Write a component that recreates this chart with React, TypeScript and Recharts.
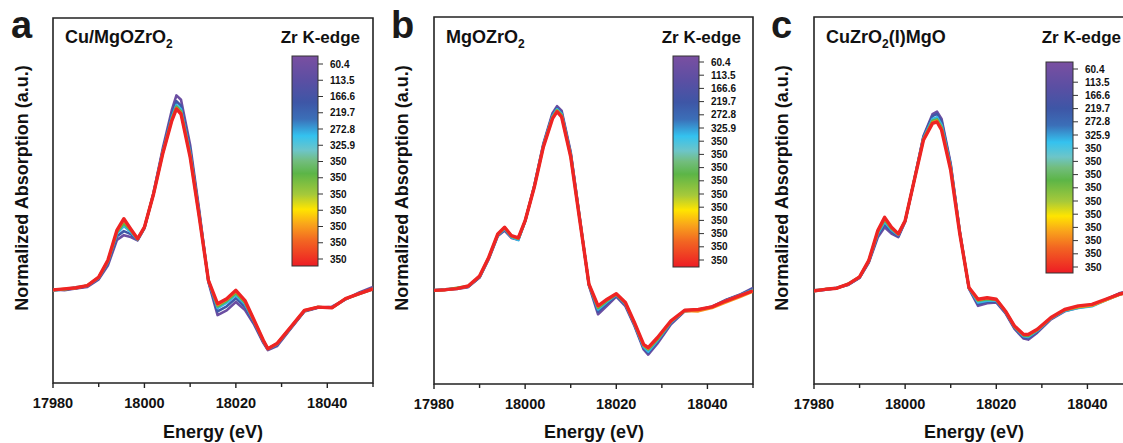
import React from "react";
import { LineChart, Line, XAxis, YAxis, ReferenceArea } from "recharts";

const FONT = "'Liberation Sans', Arial, Helvetica, sans-serif";

// energy grid (eV)
const energy = [
  17980, 17982.5, 17985, 17987.5, 17990, 17992, 17994, 17995.5, 17997, 17998.5,
  18000, 18002, 18004, 18006, 18007, 18008, 18010, 18012, 18014, 18016, 18018,
  18020, 18022, 18024, 18026, 18027, 18029, 18032, 18035, 18038, 18041, 18044,
  18047, 18050,
];

const xTicks = [17980, 17990, 18000, 18010, 18020, 18030, 18040, 18050];
const majorTicks = [17980, 18000, 18020, 18040];

const seriesColors = ["#6b4ea2", "#3f58a8", "#37b6e3", "#5cb648", "#f79420", "#ee2424"];

// panel a: Cu/MgOZrO2
const aPurple = [0.256,0.254,0.259,0.263,0.284,0.322,0.392,0.405,0.400,0.391,0.424,0.522,0.642,0.748,0.788,0.776,0.652,0.472,0.276,0.186,0.199,0.222,0.200,0.160,0.110,0.090,0.101,0.149,0.196,0.206,0.209,0.229,0.248,0.263];
const aBlue = [0.254,0.256,0.260,0.265,0.286,0.327,0.402,0.416,0.408,0.392,0.425,0.520,0.636,0.736,0.772,0.760,0.640,0.465,0.279,0.196,0.210,0.232,0.209,0.164,0.113,0.092,0.104,0.150,0.197,0.207,0.207,0.230,0.246,0.260];
const aCyan = [0.253,0.257,0.262,0.266,0.288,0.331,0.410,0.430,0.414,0.393,0.426,0.519,0.632,0.728,0.762,0.750,0.631,0.460,0.280,0.205,0.220,0.241,0.216,0.168,0.115,0.093,0.106,0.151,0.198,0.208,0.206,0.230,0.245,0.257];
const aGreen = [0.255,0.256,0.261,0.267,0.289,0.333,0.414,0.437,0.418,0.394,0.426,0.518,0.630,0.724,0.757,0.744,0.626,0.457,0.281,0.210,0.225,0.246,0.220,0.170,0.116,0.094,0.107,0.152,0.198,0.208,0.206,0.231,0.244,0.257];
const aOrange = [0.254,0.258,0.260,0.267,0.290,0.335,0.417,0.446,0.421,0.395,0.427,0.518,0.629,0.721,0.753,0.740,0.622,0.455,0.281,0.214,0.229,0.251,0.224,0.171,0.117,0.094,0.108,0.153,0.199,0.208,0.206,0.231,0.245,0.258];
const aRed = [0.255,0.258,0.261,0.267,0.290,0.336,0.419,0.450,0.422,0.395,0.427,0.518,0.628,0.719,0.751,0.737,0.619,0.454,0.281,0.217,0.231,0.254,0.226,0.172,0.117,0.094,0.108,0.153,0.199,0.208,0.206,0.231,0.245,0.258];

// panel b: MgOZrO2
const bPurple = [0.254,0.256,0.259,0.264,0.290,0.340,0.403,0.418,0.398,0.393,0.443,0.540,0.655,0.738,0.757,0.745,0.632,0.452,0.268,0.190,0.214,0.238,0.212,0.158,0.094,0.080,0.110,0.163,0.198,0.202,0.211,0.229,0.243,0.262];
const bBlue = [0.255,0.257,0.260,0.265,0.291,0.342,0.405,0.421,0.400,0.394,0.444,0.539,0.652,0.733,0.752,0.740,0.628,0.450,0.270,0.197,0.220,0.241,0.216,0.161,0.098,0.085,0.115,0.166,0.199,0.202,0.210,0.228,0.242,0.259];
const bCyan = [0.256,0.258,0.261,0.266,0.292,0.343,0.406,0.423,0.400,0.392,0.444,0.538,0.650,0.730,0.749,0.736,0.625,0.448,0.271,0.203,0.224,0.243,0.218,0.163,0.101,0.088,0.118,0.168,0.200,0.203,0.209,0.227,0.241,0.257];
const bGreen = [0.254,0.257,0.262,0.267,0.293,0.344,0.407,0.425,0.402,0.396,0.445,0.537,0.648,0.727,0.746,0.733,0.622,0.447,0.271,0.207,0.227,0.244,0.220,0.165,0.104,0.094,0.121,0.170,0.200,0.202,0.209,0.225,0.240,0.255];
const bOrange = [0.255,0.256,0.260,0.266,0.294,0.345,0.408,0.427,0.404,0.397,0.445,0.536,0.647,0.725,0.744,0.730,0.620,0.446,0.272,0.211,0.230,0.246,0.221,0.166,0.106,0.097,0.124,0.171,0.199,0.198,0.207,0.222,0.236,0.252];
const bRed = [0.255,0.257,0.260,0.267,0.294,0.345,0.409,0.427,0.404,0.398,0.445,0.536,0.646,0.723,0.742,0.728,0.619,0.445,0.272,0.213,0.231,0.246,0.222,0.167,0.108,0.099,0.126,0.172,0.201,0.203,0.210,0.226,0.240,0.254];

// panel c: CuZrO2(I)MgO
const cPurple = [0.253,0.257,0.262,0.270,0.289,0.330,0.400,0.427,0.410,0.400,0.442,0.556,0.675,0.735,0.742,0.722,0.600,0.415,0.260,0.213,0.220,0.222,0.193,0.150,0.124,0.121,0.140,0.176,0.198,0.208,0.213,0.230,0.247,0.258];
const cBlue = [0.254,0.257,0.261,0.271,0.290,0.332,0.405,0.435,0.415,0.403,0.443,0.556,0.672,0.730,0.736,0.715,0.596,0.414,0.261,0.218,0.224,0.225,0.195,0.153,0.127,0.125,0.143,0.178,0.200,0.210,0.215,0.230,0.246,0.256];
const cCyan = [0.255,0.258,0.262,0.272,0.291,0.334,0.410,0.442,0.420,0.406,0.444,0.556,0.669,0.722,0.727,0.706,0.591,0.412,0.262,0.222,0.227,0.227,0.197,0.155,0.130,0.128,0.145,0.179,0.199,0.207,0.212,0.228,0.243,0.254];
const cGreen = [0.254,0.259,0.261,0.273,0.292,0.335,0.413,0.447,0.423,0.408,0.445,0.555,0.667,0.717,0.721,0.700,0.588,0.411,0.262,0.227,0.231,0.229,0.198,0.156,0.132,0.131,0.147,0.180,0.201,0.209,0.214,0.229,0.244,0.255];
const cOrange = [0.253,0.258,0.261,0.272,0.292,0.336,0.416,0.452,0.426,0.408,0.445,0.555,0.665,0.713,0.717,0.695,0.585,0.410,0.263,0.229,0.234,0.231,0.199,0.157,0.134,0.134,0.148,0.180,0.202,0.210,0.214,0.228,0.243,0.253];
const cRed = [0.254,0.258,0.261,0.272,0.292,0.336,0.418,0.454,0.427,0.409,0.445,0.555,0.664,0.710,0.714,0.692,0.582,0.409,0.263,0.231,0.235,0.231,0.199,0.158,0.135,0.135,0.149,0.181,0.203,0.213,0.217,0.231,0.245,0.254];

const labelsA = ["60.4", "113.5", "166.6", "219.7", "272.8", "325.9", "350", "350", "350", "350", "350", "350", "350"];
const labelsBC = ["60.4", "113.5", "166.6", "219.7", "272.8", "325.9", "350", "350", "350", "350", "350", "350", "350", "350", "350", "350"];

const panels = [
  { key: "a", title: "Cu/MgOZrO", sub: "2", tail: "", left: 0, mLeft: 53, top: 18, bottom: 60, series: [aPurple, aBlue, aCyan, aGreen, aOrange, aRed],
    bar: { x: 292, y: 56, w: 26, h: 210, l0: 64, l1: 259, labels: labelsA } },
  { key: "b", title: "MgOZrO", sub: "2", tail: "", left: 380, mLeft: 54, top: 17, bottom: 59, series: [bPurple, bBlue, bCyan, bGreen, bOrange, bRed],
    bar: { x: 673, y: 56, w: 26, h: 211, l0: 62, l1: 260, labels: labelsBC } },
  { key: "c", title: "CuZrO", sub: "2", tail: "(I)MgO", left: 760, mLeft: 54, top: 17, bottom: 59, series: [cPurple, cBlue, cCyan, cGreen, cOrange, cRed],
    bar: { x: 1046, y: 62, w: 27, h: 211, l0: 69, l1: 267, labels: labelsBC } },
];

const EnergyTick = ({ x, y, payload }: any) => {
  const major = majorTicks.includes(payload.value);
  return (
    <g>
      <line x1={x} x2={x} y1={y} y2={y + (major ? 5 : 4)} stroke="#222" strokeWidth={1.4} />
      {major && (
        <text x={x} y={y + 25} textAnchor="middle" fontSize={14.5} fontWeight="bold" fontFamily={FONT} fill="#111">
          {payload.value}
        </text>
      )}
    </g>
  );
};

function Panel({ p }: { p: (typeof panels)[number] }) {
  const rows = energy.map((e, i) => {
    const r: any = { e };
    p.series.forEach((s, k) => (r["s" + k] = s[i]));
    return r;
  });
  return (
    <div style={{ position: "absolute", left: p.left, top: 0 }}>
      <LineChart width={380} height={443} data={rows} margin={{ top: p.top, right: 7, bottom: 0, left: p.mLeft }}>
        <XAxis
          dataKey="e"
          type="number"
          domain={[17980, 18050]}
          ticks={xTicks}
          interval={0}
          allowDataOverflow
          axisLine={false}
          tickLine={false}
          tickSize={0}
          tickMargin={0}
          height={p.bottom}
          tick={<EnergyTick />}
        />
        <YAxis hide domain={[0, 1]} type="number" />
        {p.series.map((_, k) => (
          <Line
            key={k}
            dataKey={"s" + k}
            stroke={seriesColors[k]}
            strokeWidth={k === p.series.length - 1 ? 3.4 : 2.6}
            strokeLinejoin="round"
            dot={false}
            isAnimationActive={false}
          />
        ))}
        <ReferenceArea x1={17980} x2={18050} y1={0} y2={1} fill="none" stroke="#222" strokeWidth={1.6} />
      </LineChart>
    </div>
  );
}

export default function App() {
  return (
    <div style={{ position: "fixed", left: 0, top: 0, width: 1123, height: 443, overflow: "hidden", background: "#fff" }}>
      {panels.map((p) => (
        <Panel key={p.key} p={p} />
      ))}
      <svg width={1123} height={443} style={{ position: "absolute", left: 0, top: 0, pointerEvents: "none" }} fontFamily={FONT} fontWeight="bold">
        <defs>
          <linearGradient id="cbar" x1="0" y1="0" x2="0" y2="1">
            <stop offset="0" stopColor="#7a4fa1" />
            <stop offset="0.12" stopColor="#5a4fa3" />
            <stop offset="0.22" stopColor="#3e56a6" />
            <stop offset="0.3" stopColor="#3b6fb8" />
            <stop offset="0.38" stopColor="#34c2ef" />
            <stop offset="0.45" stopColor="#6dc5c8" />
            <stop offset="0.5" stopColor="#72bd7e" />
            <stop offset="0.56" stopColor="#5cb547" />
            <stop offset="0.66" stopColor="#a6c93a" />
            <stop offset="0.73" stopColor="#ffe500" />
            <stop offset="0.8" stopColor="#f9a51b" />
            <stop offset="0.88" stopColor="#f26522" />
            <stop offset="1" stopColor="#ed1c24" />
          </linearGradient>
        </defs>
        {panels.map((p) => {
          const cx = p.left + p.mLeft + 160;
          const b = p.bar;
          const n = b.labels.length;
          return (
            <g key={p.key}>
              <text x={p.left + 11} y={38} fontSize={38} fill="#1a1a1a">{p.key}</text>
              <text x={p.left + p.mLeft + 12} y={43} fontSize={18} fill="#111">
                {p.title}
                <tspan fontSize={12} dy={5}>{p.sub}</tspan>
                <tspan dy={-5}>{p.tail}</tspan>
              </text>
              <text x={p.left + p.mLeft + 307} y={43} fontSize={17} textAnchor="end" fill="#111">Zr K-edge</text>
              <text
                x={p.left + 22}
                y={188}
                fontSize={18}
                textAnchor="middle"
                dominantBaseline="central"
                transform={`rotate(-90 ${p.left + 22} 188)`}
                fill="#111"
              >
                Normalized Absorption (a.u.)
              </text>
              <text x={cx} y={438} fontSize={18} textAnchor="middle" fill="#111">Energy (eV)</text>
              <rect x={b.x} y={b.y} width={b.w} height={b.h} fill="url(#cbar)" stroke="#333" strokeWidth={1} />
              {b.labels.map((l, i) => {
                const ly = b.l0 + ((b.l1 - b.l0) * i) / (n - 1);
                return (
                  <g key={i}>
                    <line x1={b.x + b.w} x2={b.x + b.w + 5} y1={ly} y2={ly} stroke="#333" strokeWidth={1} />
                    <text x={b.x + b.w + 12} y={ly} fontSize={10} dominantBaseline="central" fill="#111">{l}</text>
                  </g>
                );
              })}
            </g>
          );
        })}
      </svg>
    </div>
  );
}
